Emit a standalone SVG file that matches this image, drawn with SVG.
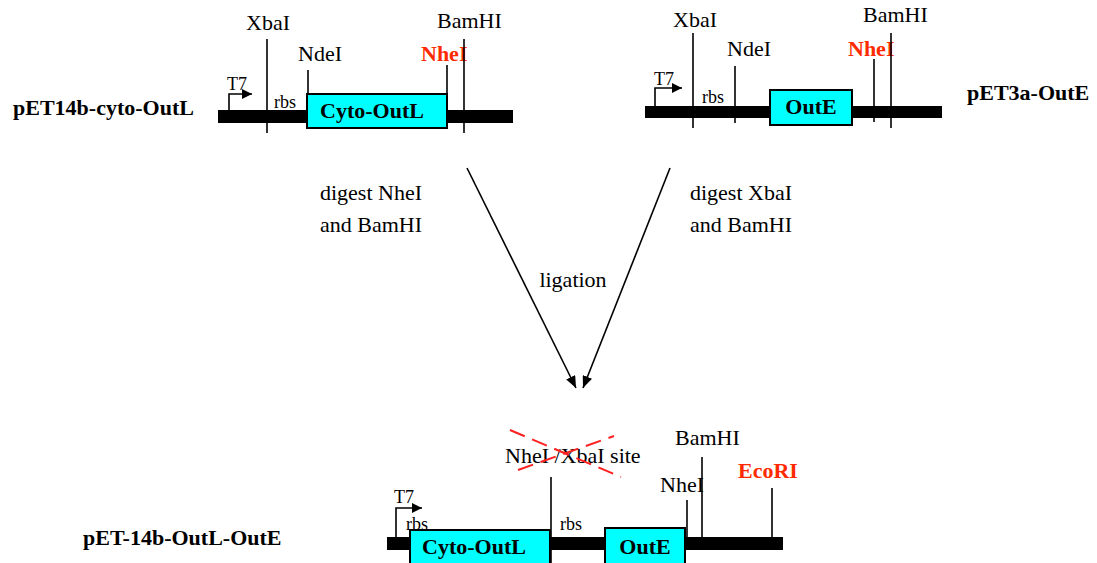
<svg xmlns="http://www.w3.org/2000/svg" width="1097" height="563" viewBox="0 0 1097 563">
<defs>
<style>
.t{font-family:"Liberation Serif","Times New Roman",serif;font-size:22px;fill:#000}
.s{font-family:"Liberation Serif","Times New Roman",serif;font-size:18px;fill:#000}
.b{font-family:"Liberation Serif","Times New Roman",serif;font-size:22px;font-weight:bold;fill:#000}
.r{fill:#FF2A00}
.bar{fill:#000}
.box{fill:#00FFFF;stroke:#000;stroke-width:2}
.ln{stroke:#000;stroke-width:1.6;fill:none}
.x{stroke:#FF2020;stroke-width:2;stroke-dasharray:16 8;fill:none}
</style>
<marker id="ah" viewBox="0 0 10 10" refX="10" refY="5" markerWidth="10" markerHeight="10" markerUnits="userSpaceOnUse" orient="auto">
<path d="M0,0 L10,5 L0,10 Z" fill="#000"/>
</marker>
<marker id="ah2" viewBox="0 0 12 10" refX="12" refY="5" markerWidth="12" markerHeight="10" markerUnits="userSpaceOnUse" orient="auto">
<path d="M0,0 L12,5 L0,10 Z" fill="#000"/>
</marker>
</defs>
<rect width="1097" height="563" fill="#fff"/>

<g id="pET14b-cyto-OutL">
<text class="b" x="13" y="115">pET14b-cyto-OutL</text>
<rect class="bar" x="218" y="110" width="295" height="13"/>
<path class="ln" d="M229,110 V94 H252" marker-end="url(#ah)"/>
<text class="s" x="227" y="90">T7</text>
<text class="s" x="274" y="108">rbs</text>
<line class="ln" x1="267" y1="39" x2="267" y2="133"/>
<text class="t" x="246" y="30">XbaI</text>
<line class="ln" x1="308" y1="70" x2="308" y2="94"/>
<text class="t" x="298" y="61">NdeI</text>
<rect class="box" x="307" y="94" width="140" height="34"/>
<text class="b" x="372" y="118" text-anchor="middle">Cyto-OutL</text>
<line class="ln" x1="447" y1="65" x2="447" y2="94"/>
<text class="b r" x="421" y="61">NheI</text>
<line class="ln" x1="464" y1="39" x2="464" y2="133"/>
<text class="t" x="437" y="28">BamHI</text>
</g>

<g id="pET3a-OutE">
<text class="b" x="967" y="100">pET3a-OutE</text>
<rect class="bar" x="645" y="106" width="297" height="12"/>
<path class="ln" d="M655,106 V88 H682" marker-end="url(#ah)"/>
<text class="s" x="654" y="85">T7</text>
<text class="s" x="702" y="103">rbs</text>
<line class="ln" x1="693" y1="33" x2="693" y2="128"/>
<text class="t" x="673" y="27">XbaI</text>
<line class="ln" x1="735" y1="66" x2="735" y2="123"/>
<text class="t" x="727" y="56">NdeI</text>
<rect class="box" x="770" y="90" width="82" height="35"/>
<text class="b" x="811" y="114" text-anchor="middle">OutE</text>
<line class="ln" x1="874" y1="59" x2="874" y2="122"/>
<text class="b r" x="848" y="56">NheI</text>
<line class="ln" x1="891" y1="33" x2="891" y2="128"/>
<text class="t" x="863" y="22">BamHI</text>
</g>

<g id="pET-14b-OutL-OutE">
<text class="b" x="83" y="545">pET-14b-OutL-OutE</text>
<rect class="bar" x="387" y="537" width="396" height="13"/>
<path class="ln" d="M396,537 V508 H422" marker-end="url(#ah)"/>
<text class="s" x="394" y="503">T7</text>
<text class="s" x="406" y="530">rbs</text>
<rect class="box" x="410" y="530" width="140" height="40"/>
<text class="b" x="474" y="554" text-anchor="middle">Cyto-OutL</text>
<line class="ln" x1="551" y1="477" x2="551" y2="563"/>
<text class="t" x="505" y="463">NheI /XbaI site</text>
<line class="x" x1="510" y1="430" x2="621" y2="477"/>
<line class="x" x1="518" y1="470" x2="614" y2="436"/>
<text class="s" x="560" y="530">rbs</text>
<rect class="box" x="605" y="528" width="80" height="42"/>
<text class="b" x="645" y="554" text-anchor="middle">OutE</text>
<line class="ln" x1="687" y1="500" x2="687" y2="537"/>
<text class="t" x="660" y="492">NheI</text>
<line class="ln" x1="702" y1="457" x2="702" y2="550"/>
<text class="t" x="675" y="445">BamHI</text>
<line class="ln" x1="772" y1="488" x2="772" y2="550"/>
<text class="b r" x="738" y="478">EcoRI</text>
</g>

<g id="connectors">
<line class="ln" x1="467" y1="168" x2="576" y2="388" marker-end="url(#ah2)"/>
<line class="ln" x1="670" y1="168" x2="583" y2="388" marker-end="url(#ah2)"/>
</g>

<g id="labels">
<text class="t" x="371" y="200" text-anchor="middle">digest NheI</text>
<text class="t" x="371" y="232" text-anchor="middle">and BamHI</text>
<text class="t" x="741" y="200" text-anchor="middle">digest XbaI</text>
<text class="t" x="741" y="232" text-anchor="middle">and BamHI</text>
<text class="t" x="573" y="287" text-anchor="middle">ligation</text>
</g>
</svg>
